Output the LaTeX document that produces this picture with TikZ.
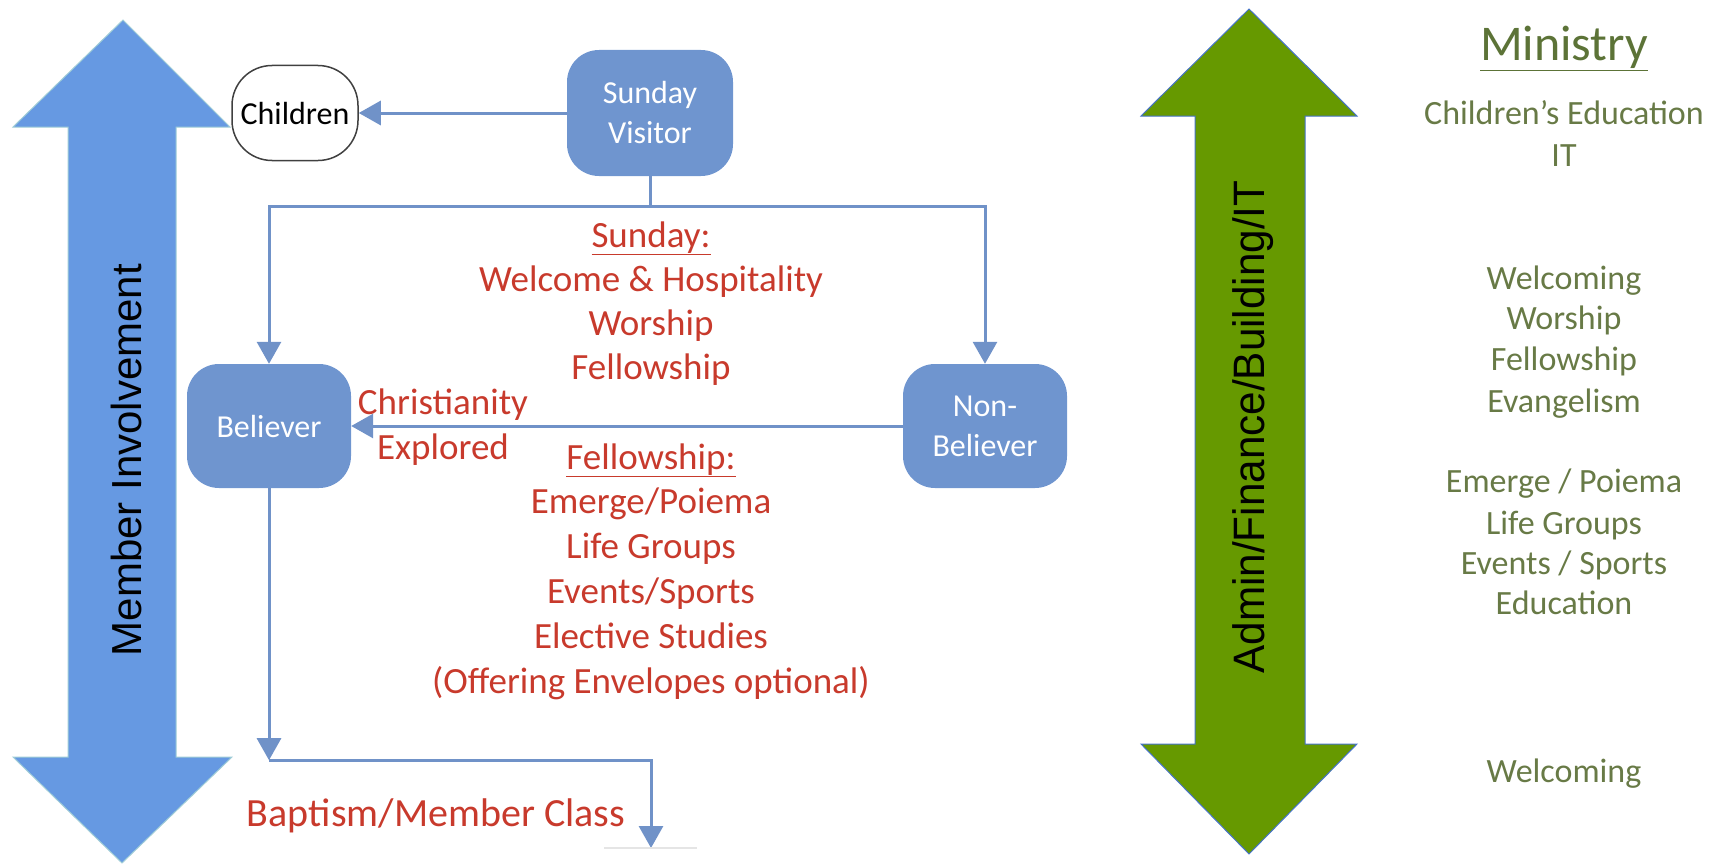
\documentclass[tikz,border=0pt]{standalone}
\usepackage{fontspec}
\setmainfont{Carlito}
\newfontfamily\arialfont{Liberation Sans}
\newfontfamily\narrowfont[FakeStretch=0.96]{Liberation Sans}
\usetikzlibrary{arrows.meta}

\definecolor{boxblue}{RGB}{111,149,207}
\definecolor{lineblue}{RGB}{112,146,200}
\definecolor{bigblue}{RGB}{102,153,226}
\definecolor{bigedge}{RGB}{160,205,215}
\definecolor{biggreen}{RGB}{102,153,0}
\definecolor{greenedge}{RGB}{70,115,200}
\definecolor{redtxt}{RGB}{200,58,44}
\definecolor{olivetxt}{RGB}{104,122,70}
\definecolor{olivedark}{RGB}{92,115,55}

\tikzset{
  stagebox/.style={rounded corners=32pt, fill=boxblue, text=white, minimum width=164pt,
                   minimum height=124pt, align=center, inner sep=0pt,
                   font=\fontsize{32}{40}\selectfont},
  kidsbox/.style={rounded corners=40pt, draw=black!75, line width=1.5pt, fill=white,
                  minimum width=126pt, minimum height=95pt, inner sep=0pt,
                  font=\fontsize{32}{40}\selectfont},
  conn/.style={draw=lineblue, line width=3pt, -{Triangle[length=22pt,width=24pt]}},
  plainline/.style={draw=lineblue, line width=3pt},
  redline/.style={text=redtxt, font=\fontsize{37}{44}\selectfont, inner sep=0pt, anchor=base},
  ministryline/.style={text=olivetxt, font=\fontsize{34}{41}\selectfont, inner sep=0pt, anchor=base},
}

\begin{document}
\begin{tikzpicture}[x=1pt,y=-1pt]
\useasboundingbox (0,0) rectangle (1721,867);

% big arrows
\filldraw[fill=bigblue, draw=bigedge, line width=1pt] (123,20) -- (230,127) -- (176,127) -- (176,757)
      -- (232,757) -- (122,863) -- (13,757) -- (68,757) -- (68,127) -- (13,127) -- cycle;
\node[rotate=90, inner sep=0pt, font=\arialfont\fontsize{42}{50}\selectfont] (member) at (126,460) {Member Involvement};

\filldraw[fill=biggreen, draw=greenedge, line width=1pt] (1249,9) -- (1357,116) -- (1305,116) -- (1305,744)
      -- (1357,744) -- (1249,854) -- (1141,744) -- (1195,744) -- (1195,116) -- (1141,116) -- cycle;
\node[rotate=90, inner sep=0pt, font=\narrowfont\fontsize{44}{50}\selectfont] (admin) at (1253,427) {Admin/Finance/Building/IT};

% flow
\node[stagebox, minimum width=166pt, minimum height=126pt] (visitor) at (650,113) {Sunday\\Visitor};
\node[kidsbox] (children) at (295,113) {Children};
\node[stagebox] (believer) at (269,426) {Believer};
\node[stagebox] (nonbeliever) at (985,426) {Non-\\Believer};

\draw[conn] (visitor.west) -- (children.east);
\draw[plainline] (visitor.south) -- ++(0,30) coordinate (split);
\draw[conn] (split) -| (believer.north);
\draw[conn] (split) -| (nonbeliever.north);
\draw[conn] (nonbeliever.west) -- (believer.east);
\draw[conn] (believer.south) -- ++(0,272) coordinate (bend);
\coordinate (classend) at (651,848);
\draw[conn] (bend) -| (classend);
\draw[draw=black!10, line width=1.5pt] (classend) ++(-47,0) -- ++(93,0);

% red texts
\foreach \t [count=\i] in {\underline{Sunday:}, Welcome \& Hospitality, Worship, Fellowship}
  \node[redline] (sun\i) at (651,{247+44.3*(\i-1)}) {\t};
\foreach \t [count=\i] in {\underline{Fellowship:}, Emerge/Poiema, Life Groups, Events/Sports,
                           Elective Studies, (Offering Envelopes optional)}
  \node[redline] (fel\i) at (651,{469+44.8*(\i-1)}) {\t};
\node[redline] (christ) at (443,414) {Christianity};
\node[redline] (explored) at (443,459) {Explored};
\node[redline, font=\fontsize{40}{48}\selectfont] (baptism) at (436,826) {Baptism/Member Class};

% ministry column
\node[text=olivedark, font=\fontsize{50}{60}\selectfont, inner sep=0pt, anchor=base] (ministry) at (1564,61) {\underline{Ministry}};
\foreach \y/\t [count=\i] in {124/Children’s Education, 166/IT, 289/Welcoming, 329/Worship,
                              370/Fellowship, 412/Evangelism, 492/{Emerge / Poiema}, 534/Life Groups,
                              574/{Events / Sports}, 614/Education, 782/Welcoming}
  \node[ministryline] (min\i) at (1564,\y) {\t};

\end{tikzpicture}
\end{document}
